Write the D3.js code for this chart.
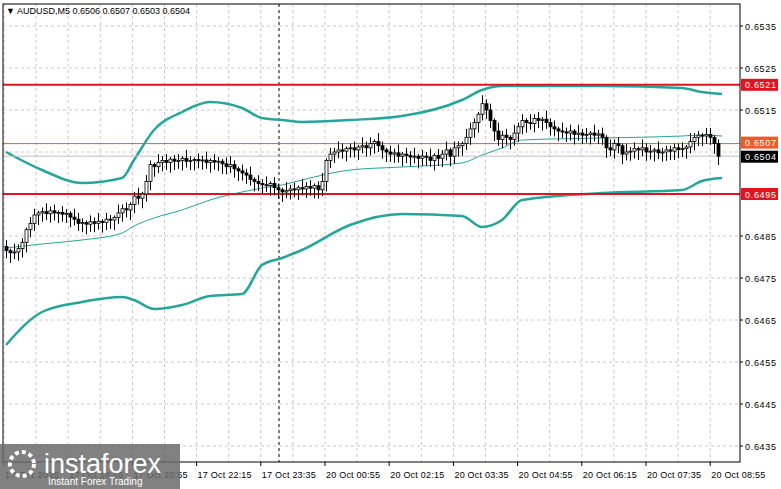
<!DOCTYPE html>
<html><head><meta charset="utf-8">
<script src="https://cdn.jsdelivr.net/npm/d3@7"></script>
<style>body{margin:0;background:#fff;}svg{display:block;font-family:"Liberation Sans",Arial,sans-serif;}</style>
</head><body><svg id="c" width="781" height="489"></svg>
<script>
// closes, in 0.00001 units relative to 0.65000
const closes = [-185,-190,-188,-180,-165,-135,-120,-100,-95,-92,-97,-90,-95,-94,-98,-96,-105,
-110,-120,-118,-122,-116,-120,-115,-118,-110,-112,-106,-95,-85,-88,-75,-55,-60,-50,-20,
20,15,25,30,25,33,28,30,35,28,30,32,29,31,25,30,26,28,22,15,20,10,5,0,-5,-15,-20,-25,
-28,-30,-25,-35,-40,-45,-42,-38,-40,-35,-38,-32,-36,-30,-40,-20,
30,45,50,55,52,58,60,55,62,65,60,70,75,65,55,50,45,48,40,45,42,38,40,35,
40,38,30,42,35,45,55,40,60,65,70,85,105,120,140,165,150,125,100,80,90,
85,80,95,110,125,120,118,130,125,128,120,110,105,100,98,95,100,92,95,90,92,95,90,93,
85,60,55,70,65,45,50,52,58,55,60,50,52,55,48,50,55,52,60,56,58,62,75,85,90,88,92,85,70,40];
const firstOpen = -175;
const wicks = "3142213312423132143213241321423124132142312314213241321342132413241321423142312413243123142314213241324132413241321432142314231423142314231423142314231423142314231422222";
const bandX = [0,9,19,29,32,37,44,51,59,64,69,74,86,99,114,119,124,129,149,169,174,179];
const upper = [152,170,183,178,160,130,112,102,108,118,120,122,120,116,100,90,86,86,86,88,92,94];
const middle = [248,244,240,233,226,218,210,200,192,188,185,180,170,167,163,155,148,140,138,136,135,136];
const lower = [345,312,302,297,300,309,305,296,294,265,258,250,225,214,216,227,220,200,193,190,181,178];
const priceTicks = [0.6535,0.6525,0.6515,0.6485,0.6475,0.6465,0.6455,0.6445,0.6435];
const timeLabels = ["17 Oct 2025","17 Oct 18:55","17 Oct 20:55","17 Oct 22:15","17 Oct 23:35","20 Oct 00:55","20 Oct 02:15","20 Oct 03:35","20 Oct 04:55","20 Oct 06:15","20 Oct 07:35","20 Oct 08:55"];
const levels = [{v:0.6521,c:"#e0141e",w:2},{v:0.6495,c:"#e0141e",w:2},{v:0.6507,c:"#f05a28",w:1}];
const bid = 0.6504;

const svg = d3.select("#c");
const L=3,R=740,T=4,B=462;
const y = d3.scaleLinear().domain([0.6435,0.6535]).range([446,26]);
const x = d3.scaleLinear().domain([0,1]).range([6,10]);
const yb = v => y(0.6535 - (v-26)/42000);
const pv = v => 0.65 + v/100000;

const g = svg.append("g");
priceTicks.concat([0.6505]).forEach(t=>g.append("line").attr("x1",L).attr("x2",R).attr("y1",y(t)).attr("y2",y(t)).attr("stroke","#c8c8c8").attr("stroke-dasharray","3,3"));
for(let i=0;i<24;i++){const xx=4+i*32.1; if(xx<R) g.append("line").attr("x1",xx).attr("x2",xx).attr("y1",T).attr("y2",B).attr("stroke","#c8c8c8").attr("stroke-dasharray","3,3");}
g.append("line").attr("x1",279).attr("x2",279).attr("y1",T).attr("y2",B).attr("stroke","#000").attr("stroke-dasharray","3,3");

const line = d3.line().x((d,i)=>x(bandX[i])).y(d=>yb(d)).curve(d3.curveMonotoneX);
svg.append("path").attr("d",line(upper)).attr("fill","none").attr("stroke","#26a69a").attr("stroke-width",2.5);
svg.append("path").attr("d",line(lower)).attr("fill","none").attr("stroke","#26a69a").attr("stroke-width",2.5);
svg.append("path").attr("d",line(middle)).attr("fill","none").attr("stroke","#26a69a").attr("stroke-width",1);

levels.forEach(l=>svg.append("line").attr("x1",L).attr("x2",R).attr("y1",y(l.v)).attr("y2",y(l.v)).attr("stroke",l.c).attr("stroke-width",l.w));
svg.append("line").attr("x1",L).attr("x2",R).attr("y1",y(bid)).attr("y2",y(bid)).attr("stroke","#c0c0c0");

const cg = svg.append("g");
closes.forEach((c,i)=>{
  const o = i? closes[i-1] : firstOpen;
  const w = +wicks[i%wicks.length]*5;
  const hi = Math.max(o,c)+w, lo = Math.min(o,c)-(9-w/5)*3;
  const xc = Math.round(x(i))+0.5;
  cg.append("line").attr("x1",xc).attr("x2",xc).attr("y1",y(pv(hi))).attr("y2",y(pv(lo))).attr("stroke","#000");
  const y1=y(pv(Math.max(o,c))), y2=y(pv(Math.min(o,c)));
  cg.append("rect").attr("x",xc-1.5).attr("y",y1).attr("width",3).attr("height",Math.max(1,y2-y1))
    .attr("fill",c>=o?"#fff":"#000").attr("stroke","#000").attr("stroke-width",0.8);
});

svg.append("rect").attr("x",L).attr("y",T).attr("width",R-L).attr("height",B-T).attr("fill","none").attr("stroke","#000");
const ax = svg.append("g").attr("font-size",9).attr("fill","#000");
priceTicks.forEach(t=>{ax.append("line").attr("x1",R).attr("x2",R+3).attr("y1",y(t)).attr("y2",y(t)).attr("stroke","#000");
  ax.append("text").attr("x",745).attr("y",y(t)+4).attr("textLength",31).text(t.toFixed(4));});
function tag(v,bg,dy){const cy=y(v)+dy;svg.append("rect").attr("x",741).attr("y",cy-6).attr("width",37).attr("height",12).attr("fill",bg);
  svg.append("text").attr("x",745).attr("y",cy+3.5).attr("font-size",9).attr("textLength",31).attr("fill","#fff").text(v.toFixed(4));}
tag(0.6521,"#e0141e",0);tag(0.6495,"#e0141e",0);tag(0.6507,"#f05a28",-1);tag(bid,"#000",0.5);
timeLabels.forEach((t,i)=>{const xx=4+i*64.2; ax.append("line").attr("x1",xx).attr("x2",xx).attr("y1",B).attr("y2",B+4).attr("stroke","#000");
  ax.append("text").attr("x",xx+1).attr("y",478).attr("textLength",54).text(t);});
svg.append("text").attr("x",6).attr("y",14).attr("font-size",9).text("▼ AUDUSD,M5  0.6506 0.6507 0.6503 0.6504");
const lg = svg.append("g");
lg.append("rect").attr("x",0).attr("y",444).attr("width",180).attr("height",45).attr("fill","#6b6b6b").attr("opacity",0.85);
lg.append("circle").attr("cx",22).attr("cy",464).attr("r",12).attr("fill","none").attr("stroke","#fff").attr("stroke-width",4).attr("stroke-dasharray","4,3");
lg.append("text").attr("x",44).attr("y",473).attr("font-size",27).attr("fill","#fff").text("instaforex");
lg.append("text").attr("x",48).attr("y",485).attr("font-size",10).attr("fill","#fff").text("Instant Forex Trading");
</script></body></html>
